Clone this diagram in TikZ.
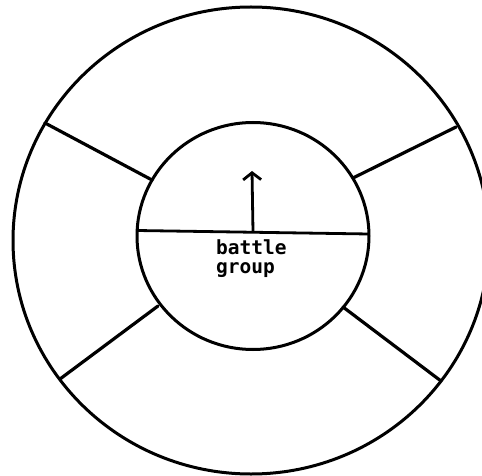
\documentclass[tikz,border=0pt]{standalone}
\usepackage{fontspec}
\newfontfamily\labelfont{DejaVu Sans Mono}
\usetikzlibrary{arrows.meta}
\tikzset{
  ring/.style={line width=3pt},
  spoke/.style={line width=3.2pt, line cap=round},
  divider/.style={line width=2.8pt},
  heading/.style={line width=2.8pt, -{Straight Barb[length=7pt,width=18pt,line width=2.8pt]}},
  label/.style={font=\labelfont\bfseries\fontsize{19.5}{19}\selectfont, align=left, inner sep=0pt, anchor=north west}
}
\begin{document}
\begin{tikzpicture}[x=1pt,y=-1pt]
\useasboundingbox (0,0) rectangle (482,476);
\fill[white] (0,0) rectangle (482,476);
% rings
\draw[ring] (251,240.5) ellipse [x radius=238, y radius=233.5];
\draw[ring] (253,236) ellipse [x radius=116, y radius=113.5];
% spoke end points
\coordinate (o1) at (45,123);
\coordinate (i1) at (152,180);
\coordinate (o2) at (456,127);
\coordinate (i2) at (353,178);
\coordinate (o3) at (60,379);
\coordinate (i3) at (158,306);
\coordinate (o4) at (441,381);
\coordinate (i4) at (343,307);
\draw[spoke] (o1) -- (i1);
\draw[spoke] (o2) -- (i2);
\draw[spoke] (o3) -- (i3);
\draw[spoke] (o4) -- (i4);
% divider
\coordinate (dl) at (137,230.5);
\coordinate (dr) at (369,234);
\draw[divider] (dl) -- (dr);
% arrow
\coordinate (ab) at (253,231.5);
\coordinate (at) at (252,171);
\draw[heading] (ab) -- (at);
% label
\node[label] (lbl) at (216,239) {battle\\group};
\end{tikzpicture}
\end{document}
